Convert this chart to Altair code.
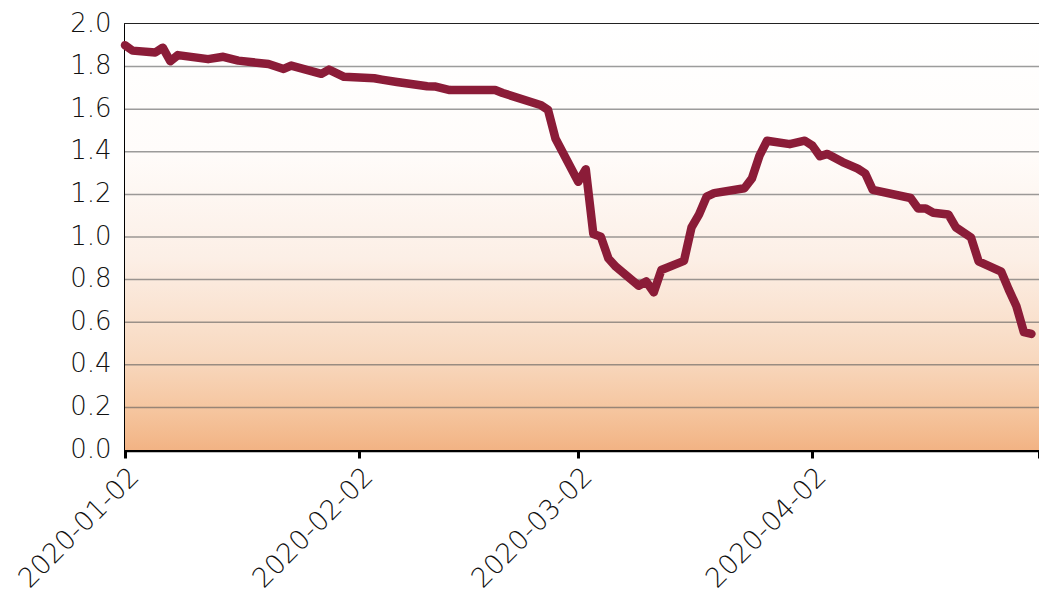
import altair as alt
import pandas as pd

dates = ["2020-01-02","2020-01-03","2020-01-06","2020-01-07","2020-01-08","2020-01-09","2020-01-13","2020-01-15","2020-01-17","2020-01-21","2020-01-23","2020-01-24","2020-01-28","2020-01-29","2020-01-31",
         "2020-02-04","2020-02-05","2020-02-07","2020-02-11","2020-02-12","2020-02-14","2020-02-20","2020-02-21","2020-02-26","2020-02-27","2020-02-28",
         "2020-03-02","2020-03-03","2020-03-04","2020-03-05","2020-03-06","2020-03-07","2020-03-10","2020-03-11","2020-03-12","2020-03-13","2020-03-16","2020-03-17","2020-03-18","2020-03-19","2020-03-20","2020-03-24","2020-03-25","2020-03-26","2020-03-27","2020-03-30",
         "2020-04-01","2020-04-02","2020-04-03","2020-04-04","2020-04-06","2020-04-08","2020-04-09","2020-04-10","2020-04-15","2020-04-16","2020-04-17","2020-04-18","2020-04-20","2020-04-21","2020-04-23","2020-04-24","2020-04-27","2020-04-28","2020-04-29","2020-04-30",
         "2020-05-01"]
values = [1.90,1.875,1.866,1.889,1.825,1.854,1.835,1.846,1.828,1.812,1.789,1.805,1.766,1.786,1.752,
          1.745,1.739,1.728,1.708,1.707,1.690,1.690,1.676,1.620,1.597,1.461,
          1.259,1.318,1.014,1.001,0.899,0.860,0.771,0.791,0.740,0.845,0.888,1.045,1.106,1.190,1.206,1.229,1.275,1.382,1.452,1.436,
          1.452,1.429,1.379,1.390,1.352,1.321,1.298,1.221,1.183,1.134,1.134,1.114,1.106,1.045,0.998,0.886,0.837,0.753,0.676,0.553,
          0.545]
y_ticks = [0.0, 0.2, 0.4, 0.6, 0.8, 1.0, 1.2, 1.4, 1.6, 1.8, 2.0]
grid_values = [0.2, 0.4, 0.6, 0.8, 1.0, 1.2, 1.4, 1.6, 1.8]
x_tick_dates = [(2020, 1, 2), (2020, 2, 2), (2020, 3, 2), (2020, 4, 2), (2020, 5, 2)]
x_domain = [(2020, 1, 2), (2020, 5, 2)]

def dt(t):
    return alt.DateTime(year=t[0], month=t[1], date=t[2], utc=True)

df = pd.DataFrame({"date": dates, "value": values})
grid_df = pd.DataFrame({"g": grid_values})

FONT = "DejaVu Sans"
W, H = 914, 426

xscale = alt.Scale(type="utc", domain=[dt(x_domain[0]), dt(x_domain[1])])
yscale = alt.Scale(domain=[0, 2], nice=False)

bg = alt.Chart(pd.DataFrame({"a": [0]})).mark_rect(
    color=alt.Gradient(
        gradient="linear", x1=0, x2=0, y1=0, y2=1,
        stops=[
            alt.GradientStop(offset=0.0, color="#ffffff"),
            alt.GradientStop(offset=0.3, color="#fffcfa"),
            alt.GradientStop(offset=0.55, color="#fcefe6"),
            alt.GradientStop(offset=0.78, color="#f8d9c0"),
            alt.GradientStop(offset=0.92, color="#f5c39b"),
            alt.GradientStop(offset=1.0, color="#f2b384"),
        ],
    )
).encode(
    x=alt.X(datum=dt(x_domain[0]), type="temporal", scale=xscale),
    x2=alt.X2(datum=dt(x_domain[1])),
    y=alt.Y(datum=0, type="quantitative", scale=yscale),
    y2=alt.Y2(datum=2),
)

grid = alt.Chart(grid_df).mark_rule(color="#5a5a5a", opacity=0.6, strokeWidth=1.5).encode(
    y=alt.Y("g:Q", scale=yscale)
)

line = alt.Chart(df).mark_line(
    color="#8b1c38", strokeWidth=8.5, strokeJoin="round", strokeCap="round"
).encode(
    x=alt.X("date:T", scale=xscale, title=None,
            axis=alt.Axis(values=[dt(t) for t in x_tick_dates],
                          labelExpr="utcmonth(datum.value) == 4 ? '' : utcFormat(datum.value, '%Y-%m-%d')",
                          labelAngle=-45, labelFont=FONT, labelFontSize=27, labelColor="#111",
                          labelFontWeight=300,
                          labelFlush=False, labelOverlap=False, labelPadding=5,
                          tickColor="#000", tickWidth=3, tickSize=8,
                          domainColor="#000", domainWidth=3.5, grid=False)),
    y=alt.Y("value:Q", scale=yscale, title=None,
            axis=alt.Axis(values=y_ticks, format=".1f", labelFont=FONT, labelFontSize=26,
                          labelFontWeight=300, labelOffset=-1,
                          labelColor="#111", ticks=False, labelPadding=14,
                          domainColor="#000", domainWidth=3, grid=False)),
)

chart = alt.layer(bg, grid, line).properties(
    width=W, height=H,
    autosize=alt.AutoSizeParams(type="none"),
    padding={"left": 117, "top": 16, "right": 0, "bottom": 148},
).configure_view(stroke="#222", strokeWidth=2)

chart.save("out.html", embed_options={"renderer": "svg", "actions": False})
